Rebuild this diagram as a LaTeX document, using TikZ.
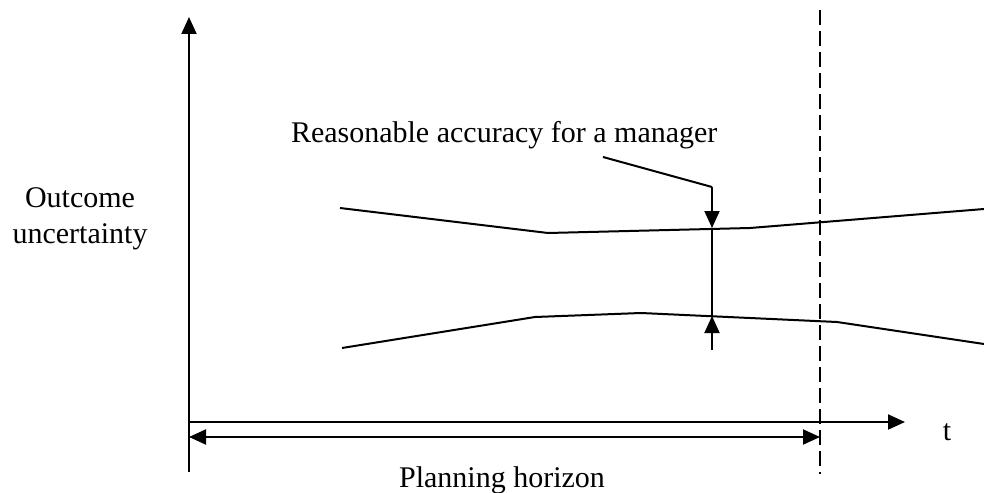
\documentclass[tikz,border=0pt]{standalone}
\usepackage{fontspec}
\setmainfont{Liberation Serif}
\usetikzlibrary{arrows.meta}
\begin{document}
\begin{tikzpicture}[x=1pt,y=-1pt, line width=2pt, line join=round,
  >={Triangle[length=17pt,width=15pt]},
  lbl/.style={font=\fontsize{30}{36}\selectfont, inner sep=0pt},
  curve/.style={line width=2pt},
  horizonline/.style={dash pattern=on 15pt off 6pt}]
\useasboundingbox (0,0) rectangle (984,492);
% axes
\coordinate (Ybot) at (189,472);
\coordinate (Ytop) at (189,17);
\coordinate (Xstart) at (189,422);
\coordinate (Xend) at (905,422);
\draw[->] (Ybot) -- (Ytop);
\draw[->] (Xstart) -- (Xend);
% planning horizon
\coordinate (Hl) at (189,437);
\coordinate (Hr) at (820,437);
\draw[<->] (Hl) -- (Hr);
\coordinate (Dtop) at (820,10);
\coordinate (Dbot) at (820,474);
\draw[horizonline] (Dtop) -- (Dbot);
% labels
\node[lbl, anchor=base] (t) at (947,440) {t};
\node[lbl, anchor=base] (ph) at (502,487) {Planning horizon};
\node[lbl, anchor=base] (ou1) at (80,207) {Outcome};
\node[lbl, anchor=base] (ou2) at (80,243) {uncertainty};
\node[lbl, anchor=base west] (acc) at (290,142) {Reasonable accuracy for a manager};
% curves
\draw[curve] (340,208) -- (548,233) -- (750,228) -- (984,209);
\draw[curve] (342,348) -- (535,317) -- (641,313) -- (837,322) -- (984,344);
% accuracy indicator
\coordinate (L0) at (603,157);
\coordinate (L1) at (712,187);
\coordinate (A1) at (712,228);
\coordinate (A2) at (712,316);
\coordinate (A3) at (712,350);
\draw (L0) -- (L1);
\draw[->] (L1) -- (A1);
\draw (A1) -- (A2);
\draw[->] (A3) -- (A2);
\end{tikzpicture}
\end{document}
